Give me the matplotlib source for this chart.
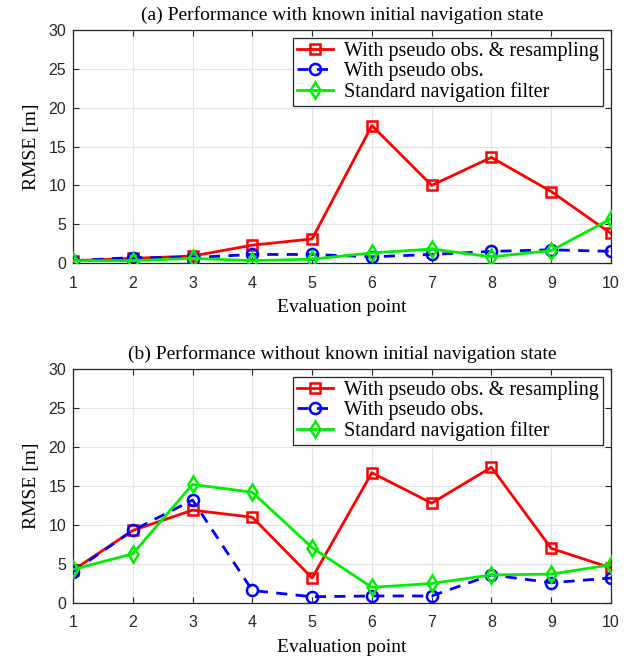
import numpy as np
import matplotlib.pyplot as plt

# -----------------------------
# data
# -----------------------------
points = np.arange(1, 11)

# (a) known initial navigation state
a_resamp = [0.3, 0.6, 0.9, 2.3, 3.1, 17.7, 10.0, 13.6, 9.2, 3.8]
a_pseudo = [0.3, 0.7, 0.7, 1.1, 1.1, 0.8, 1.1, 1.5, 1.7, 1.5]
a_standard = [0.3, 0.3, 0.6, 0.3, 0.5, 1.3, 1.8, 0.8, 1.6, 5.7]

# (b) unknown initial navigation state
b_resamp = [4.2, 9.3, 11.9, 11.0, 3.2, 16.7, 12.8, 17.4, 7.0, 4.5]
b_pseudo = [4.0, 9.3, 13.2, 1.6, 0.8, 0.9, 0.9, 3.6, 2.6, 3.2]
b_standard = [4.3, 6.3, 15.2, 14.2, 7.1, 2.0, 2.5, 3.6, 3.7, 4.9]

titles = ["(a) Performance with known initial navigation state",
          "(b) Performance without known initial navigation state"]
labels = ["With pseudo obs. & resampling", "With pseudo obs.",
          "Standard navigation filter"]

serif = "Liberation Serif"
sans = "Liberation Sans"

fig = plt.figure(figsize=(6.39, 6.6), dpi=100)
ax_a = fig.add_axes([0.1142, 0.6015, 0.842, 0.353])
ax_b = fig.add_axes([0.1142, 0.0864, 0.842, 0.3545])

for ax, title, (r, p, s) in zip(
        [ax_a, ax_b], titles,
        [(a_resamp, a_pseudo, a_standard), (b_resamp, b_pseudo, b_standard)]):
    ax.plot(points, r, "-s", color="red", lw=2, ms=7, mfc="none", mew=1.8,
            label=labels[0], zorder=3)
    ax.plot(points, p, "--o", color="blue", lw=2, ms=8, mfc="none", mew=1.8,
            dashes=(4, 3), label=labels[1], zorder=4)
    ax.plot(points, s, "-d", color="#00ee00", lw=2, ms=8.5, mfc="none", mew=1.8,
            label=labels[2], zorder=5)

    ax.set_xlim(1, 10)
    ax.set_ylim(0, 30)
    ax.set_xticks(points)
    ax.set_yticks(np.arange(0, 31, 5))
    ax.grid(True, color="#e3e3e3", lw=0.9)
    ax.set_axisbelow(True)
    ax.tick_params(direction="in", length=4, top=True, right=True,
                   labelsize=11.5, colors="#262626")
    ax.tick_params(axis="x", pad=9)
    ax.tick_params(axis="y", pad=5)
    for lab in ax.get_xticklabels() + ax.get_yticklabels():
        lab.set_fontfamily(sans)
    for sp in ax.spines.values():
        sp.set_color("#262626")
        sp.set_linewidth(0.9)

    ax.set_title(title, fontfamily=serif, fontsize=14, pad=7)
    ax.set_xlabel("Evaluation point", fontfamily=serif, fontsize=14, labelpad=6)
    ax.set_ylabel("RMSE [m]", fontfamily=serif, fontsize=14, labelpad=6)

    leg = ax.legend(loc="upper right", prop={"family": serif, "size": 14.5},
                    fancybox=False, edgecolor="#262626", framealpha=1,
                    handlelength=1.8, borderpad=0.2, labelspacing=0.05,
                    borderaxespad=0.4, handletextpad=0.55)
    leg.get_frame().set_linewidth(0.9)

fig.savefig("out.png", dpi=100)
